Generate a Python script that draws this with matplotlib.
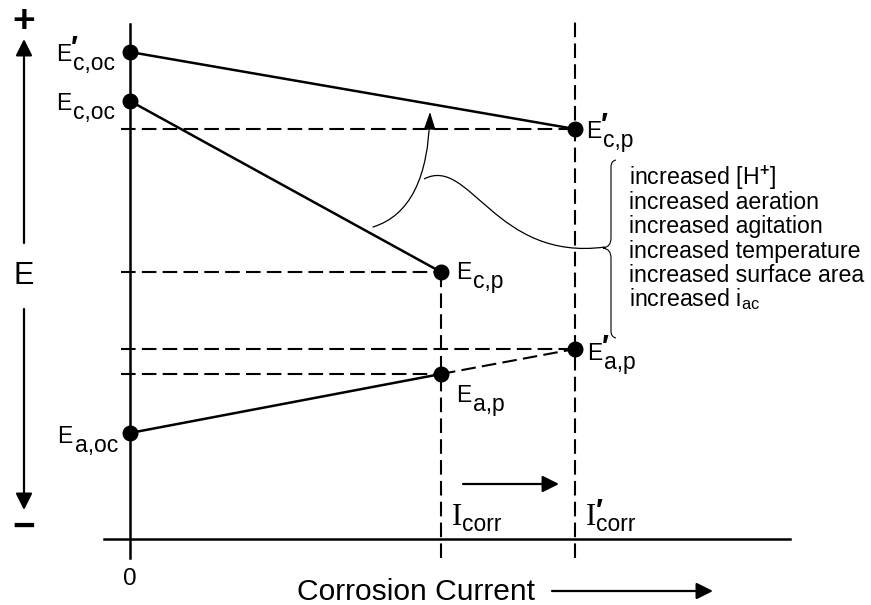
import matplotlib
matplotlib.use('Agg')
import matplotlib.pyplot as plt
import matplotlib.transforms as mtransforms
from matplotlib.path import Path
from matplotlib.patches import FancyArrowPatch, PathPatch

plt.rcParams['font.family'] = ['Liberation Sans', 'DejaVu Sans']
plt.rcParams['mathtext.fontset'] = 'custom'
plt.rcParams['mathtext.rm'] = 'Liberation Sans'
plt.rcParams['mathtext.bf'] = 'Liberation Sans:bold'

# currents (I_corr = 1)
I_oc = 0.0
I_corr = 1.0
I_corr2 = 1.431

# potentials (arbitrary units)
E_coc2 = 4.87
E_coc = 4.38
E_cp2 = 4.10
E_cp = 2.67
E_ap2 = 1.90
E_ap = 1.65
E_aoc = 1.06

factors = ['increased [H$^{\\mathbf{+}}$]', 'increased aeration', 'increased agitation',
           'increased temperature', 'increased surface area', 'increased i$_{\\mathrm{ac}}$']

fig = plt.figure(figsize=(8.71, 6.05), dpi=100)
ax = fig.add_axes([0, 0, 1, 1])
ax.set_xlim(-0.418, 2.383)
ax.set_ylim(-0.66, 5.39)
ax.axis('off')

# pixel transform for decorations (origin top-left)
pix = mtransforms.Affine2D().scale(1 / 871, -1 / 605).translate(0, 1) + fig.transFigure

# axes
ax.plot([-0.084, 2.122], [0, 0], color='k', lw=1.8)
ax.plot([0, 0], [-0.19, 5.15], color='k', lw=1.8)
ax.text(0, -0.40, '0', ha='center', va='center', fontsize=17.5)

dash = dict(color='k', lw=1.5, dashes=(7, 3))
# guide lines
for e, i in [(E_cp2, I_corr2), (E_cp, I_corr), (E_ap2, I_corr2), (E_ap, I_corr)]:
    ax.plot([-0.03, i], [e, e], **dash)
ax.plot([I_corr2, I_corr2], [-0.19, 5.19], **dash)
ax.plot([I_corr, I_corr], [-0.19, E_cp], **dash)

# polarization lines
ax.plot([I_oc, I_corr2], [E_coc2, E_cp2], color='k', lw=1.8)
ax.plot([I_oc, I_corr], [E_coc, E_cp], color='k', lw=1.8)
ax.plot([I_oc, I_corr], [E_aoc, E_ap], color='k', lw=1.8)
ax.plot([I_corr, I_corr2], [E_ap, E_ap2], **dash)

ax.plot([I_oc, I_oc, I_oc, I_corr, I_corr, I_corr2, I_corr2],
        [E_coc2, E_coc, E_aoc, E_cp, E_ap, E_cp2, E_ap2],
        'o', color='k', ms=10.5, zorder=5)


def elabel(x, y, sub, prime=False, side='right', dx=15, dy=-8):
    fs = 16.5
    drop = 9
    if side == 'right':
        e = ax.annotate('E', xy=(x, y), xytext=(dx, dy), textcoords='offset pixels',
                        ha='left', va='baseline', fontsize=fs)
        ax.annotate(sub, xy=(1, y), xycoords=(e, 'data'), xytext=(2, dy - drop),
                    textcoords='offset pixels', ha='left', va='baseline', fontsize=fs)
    else:
        s = ax.annotate(sub, xy=(x, y), xytext=(-dx, dy - drop), textcoords='offset pixels',
                        ha='right', va='baseline', fontsize=fs)
        e = ax.annotate('E', xy=(0, y), xycoords=(s, 'data'), xytext=(-2, dy),
                        textcoords='offset pixels', ha='right', va='baseline', fontsize=fs)
    if prime:
        ax.annotate('\u2032', xy=(1, y), xycoords=(e, 'data'), xytext=(0, dy + 5),
                    textcoords='offset pixels', ha='left', va='baseline',
                    fontsize=21, fontweight='bold')


elabel(I_oc, E_coc2, 'c,oc', prime=True, side='left', dx=15, dy=-9)
elabel(I_oc, E_coc, 'c,oc', side='left', dx=15, dy=-9)
elabel(I_oc, E_aoc, 'a,oc', side='left', dx=12, dy=-10)
elabel(I_corr2, E_cp2, 'c,p', prime=True, dx=11, dy=-9)
elabel(I_corr, E_cp, 'c,p', dx=15, dy=-7)
elabel(I_corr2, E_ap2, 'a,p', prime=True, dx=12, dy=-11)
elabel(I_corr, E_ap, 'a,p', dx=15, dy=-28)

# current labels
for i, pr in [(I_corr, False), (I_corr2, True)]:
    t = ax.annotate('I', xy=(i, 0), xytext=(11, 14), textcoords='offset pixels',
                    ha='left', va='baseline', fontsize=22, family='Liberation Serif')
    ax.annotate('corr', xy=(1, 0), xycoords=(t, 'data'), xytext=(0, 8),
                textcoords='offset pixels', ha='left', va='baseline', fontsize=16.5)
    if pr:
        ax.annotate('\u2032', xy=(1, 0), xycoords=(t, 'data'), xytext=(0, 20),
                    textcoords='offset pixels', ha='left', va='baseline',
                    fontsize=21, fontweight='bold')

arr = dict(arrowstyle='-|>,head_length=0.5,head_width=0.25', color='k', lw=1.6,
           mutation_scale=20, shrinkA=0, shrinkB=0)
ax.annotate('', xy=(559, 484), xycoords=pix, xytext=(463, 484), textcoords=pix, arrowprops=arr)
ax.annotate('', xy=(713, 591), xycoords=pix, xytext=(552, 591), textcoords=pix, arrowprops=arr)
ax.annotate('', xy=(24, 39), xycoords=pix, xytext=(24, 243), textcoords=pix, arrowprops=arr)
ax.annotate('', xy=(24, 510), xycoords=pix, xytext=(24, 309), textcoords=pix, arrowprops=arr)

ax.text(24, 276, 'E', transform=pix, ha='center', va='center', fontsize=22)
ax.text(24, 22, '+', transform=pix, ha='center', va='center', fontsize=28, fontweight='bold')
ax.text(24, 528, '\u2212', transform=pix, ha='center', va='center', fontsize=28, fontweight='bold')
ax.text(416, 592, 'Corrosion Current', transform=pix, ha='center', va='center', fontsize=21.6)

# curved arrow and connector to the brace
curve = Path([(373, 227), (428, 210), (430, 112)], [Path.MOVETO, Path.CURVE3, Path.CURVE3])
ax.add_patch(FancyArrowPatch(path=curve, transform=pix, color='k', lw=0.9,
                             arrowstyle='-|>,head_length=0.6,head_width=0.2', mutation_scale=18))
s_curve = Path([(424, 179), (470, 155), (495, 262), (605, 247)],
               [Path.MOVETO, Path.CURVE4, Path.CURVE4, Path.CURVE4])
ax.add_patch(PathPatch(s_curve, transform=pix, fill=False, lw=0.9, color='k'))

brace = Path([(616, 160), (611, 161), (611, 167), (611, 238), (611, 247), (603, 248),
              (611, 249), (611, 258), (611, 331), (611, 337), (616, 338)],
             [Path.MOVETO, Path.CURVE3, Path.CURVE3, Path.LINETO, Path.CURVE3, Path.CURVE3,
              Path.CURVE3, Path.CURVE3, Path.LINETO, Path.CURVE3, Path.CURVE3])
ax.add_patch(PathPatch(brace, transform=pix, fill=False, lw=0.8, color='k'))

for k, f in enumerate(factors):
    ax.text(629, 185 + 24.2 * k, f, transform=pix, ha='left', va='baseline', fontsize=16.7)

fig.savefig('out.png', dpi=100)
